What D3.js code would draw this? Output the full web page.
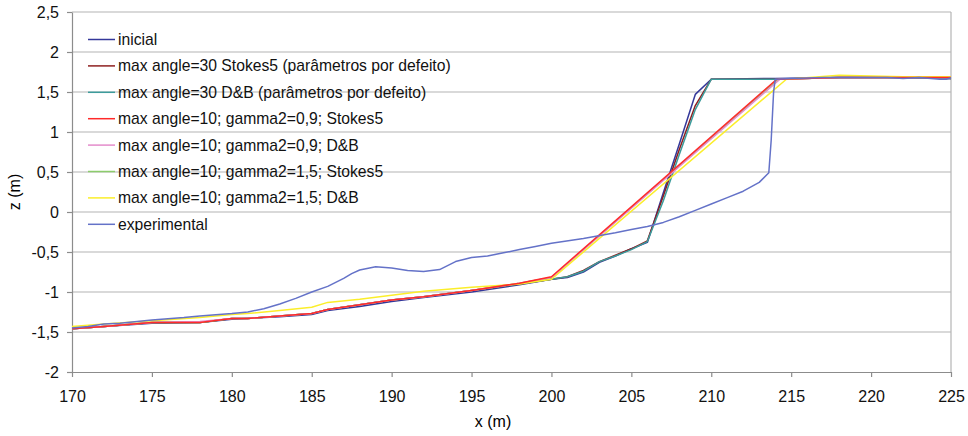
<!DOCTYPE html>
<meta charset="utf-8">
<title>Perfis de praia</title>
<style>

body {
  margin: 0px;
  background: #fff;
}

svg {
  font-family: Arial, "Liberation Sans", sans-serif;
}

.grid line {
  stroke: #b4b4b4;
  stroke-width: 1.2px;
}

.axis path, .axis line {
  stroke: #8c8c8c;
  stroke-width: 1.2px;
}

.axis text {
  font-size: 16px;
  fill: #111;
}

.serie {
  fill: none;
  stroke-width: 1.5px;
  stroke-linejoin: round;
}

.legend text {
  font-size: 15.7px;
  fill: #111;
}

</style>

<script src="https://d3js.org/d3.v7.min.js"></script>

<body>
<script>

var width = 968, height = 436;

// perfil inicial
var xInicial = [170, 172, 175, 178, 180, 183, 185, 186, 188, 190, 192, 195, 198, 200, 201, 202, 203, 204, 205, 206, 207, 208, 209, 210, 214, 218, 222, 225];
var zInicial = [-1.46, -1.43, -1.39, -1.38, -1.34, -1.31, -1.28, -1.23, -1.18, -1.12, -1.07, -1.00, -0.91, -0.84, -0.82, -0.75, -0.63, -0.55, -0.46, -0.38, 0.24, 0.85, 1.47, 1.66, 1.67, 1.68, 1.68, 1.67];

// max angle=30, parametros por defeito
var xMax30 = [170, 172, 175, 178, 180, 181, 183, 185, 186, 188, 190, 192, 195, 198, 200, 201, 202, 203, 204, 205, 206, 207, 208, 209, 210, 214, 218, 222, 225];
var zMax30Stokes = [-1.46, -1.43, -1.38, -1.38, -1.33, -1.33, -1.30, -1.27, -1.22, -1.16, -1.10, -1.06, -0.98, -0.90, -0.84, -0.81, -0.73, -0.62, -0.54, -0.46, -0.36, 0.20, 0.78, 1.33, 1.66, 1.66, 1.68, 1.68, 1.67];
var zMax30DB = [-1.46, -1.43, -1.38, -1.38, -1.33, -1.33, -1.30, -1.27, -1.22, -1.16, -1.10, -1.06, -0.98, -0.90, -0.84, -0.81, -0.74, -0.62, -0.55, -0.47, -0.37, 0.14, 0.72, 1.28, 1.66, 1.66, 1.68, 1.68, 1.67];

// max angle=10
var xMax10 = [170, 172, 175, 178, 180, 181, 183, 185, 186, 188, 190, 192, 195, 198, 200];
var zG09Stokes = [-1.46, -1.43, -1.38, -1.38, -1.33, -1.33, -1.30, -1.27, -1.22, -1.16, -1.10, -1.06, -0.98, -0.89, -0.81];
var zG09DB = [-1.46, -1.43, -1.38, -1.37, -1.33, -1.33, -1.30, -1.27, -1.22, -1.16, -1.10, -1.06, -0.98, -0.89, -0.82];
var zG15Stokes = [-1.46, -1.43, -1.38, -1.38, -1.33, -1.33, -1.30, -1.27, -1.22, -1.16, -1.10, -1.06, -0.98, -0.89, -0.82];
var zG15DB = [-1.43, -1.40, -1.36, -1.32, -1.28, -1.27, -1.23, -1.19, -1.13, -1.09, -1.04, -0.99, -0.94, -0.90, -0.84];
// topo do talude e berma
var xTopo = [214.1, 214.3, 214.2, 214.7];
var xBerma = [218, 222, 225];
var zBerma = [1.68, 1.68, 1.68];
var zBermaYellow = [1.71, 1.69, 1.69];

// experimental
var xExp = [170, 171, 172, 173, 175, 177, 178, 180, 181, 182, 183, 184, 185, 186, 187, 187.5, 188, 189, 190, 191, 192, 193, 193.5, 194, 195, 196, 197, 198, 199, 200, 202, 204, 205, 206, 207, 208, 209, 210, 211, 212, 213, 213.6, 213.75, 213.9, 214, 215, 217, 219, 221, 222, 223, 224.3, 224.7, 225];
var zExp = [-1.45, -1.43, -1.40, -1.39, -1.35, -1.32, -1.30, -1.27, -1.25, -1.21, -1.15, -1.08, -1.00, -0.93, -0.83, -0.77, -0.725, -0.685, -0.70, -0.73, -0.745, -0.72, -0.67, -0.62, -0.57, -0.55, -0.51, -0.47, -0.43, -0.39, -0.33, -0.26, -0.22, -0.18, -0.13, -0.06, 0.02, 0.10, 0.18, 0.26, 0.37, 0.49, 0.90, 1.50, 1.66, 1.67, 1.68, 1.68, 1.68, 1.67, 1.68, 1.66, 1.66, 1.68];

var names = [
  "inicial",
  "max angle=30 Stokes5 (parâmetros por defeito)",
  "max angle=30 D&B (parâmetros por defeito)",
  "max angle=10; gamma2=0,9; Stokes5",
  "max angle=10; gamma2=0,9; D&B",
  "max angle=10; gamma2=1,5; Stokes5",
  "max angle=10; gamma2=1,5; D&B",
  "experimental"
];
var colors = ["#34389a", "#8e1f1f", "#3c9c9c", "#ff2a2a", "#e48ccb", "#8ccc6c", "#fbee2a", "#6472c8"];

var xTicks = d3.range(170, 226, 5);
var zTicks = d3.range(-2, 2.51, 0.5);

function zip(xs, zs) {
  return xs.map(function(x, i) { return [x, zs[i]]; });
}

var series = [
  zip(xInicial, zInicial),
  zip(xMax30, zMax30Stokes),
  zip(xMax30, zMax30DB),
  zip(xMax10, zG09Stokes).concat([[xTopo[0], 1.66]], zip(xBerma, zBerma)),
  zip(xMax10, zG09DB).concat([[xTopo[1], 1.66]], zip(xBerma, zBerma)),
  zip(xMax10, zG15Stokes).concat([[xTopo[2], 1.66]], zip(xBerma, zBerma)),
  zip(xMax10, zG15DB).concat([[xTopo[3], 1.66]], zip(xBerma, zBermaYellow)),
  zip(xExp, zExp)
];
// order in which the lines are drawn (red above pink and green)
var drawOrder = [0, 1, 2, 5, 4, 6, 3, 7];

var margin = {top: 12, right: 17, bottom: 64, left: 72};

var x = d3.scaleLinear()
    .domain([170, 225])
    .range([margin.left, width - margin.right]);

var y = d3.scaleLinear()
    .domain([-2, 2.5])
    .range([height - margin.bottom, margin.top]);

var pt = d3.formatLocale({decimal: ",", thousands: ".", grouping: [3], currency: ["", ""], minus: "-"});
var fmt = pt.format("~f");

var svg = d3.select("body").append("svg")
    .attr("width", width)
    .attr("height", height);

// horizontal gridlines
svg.append("g")
    .attr("class", "grid")
  .selectAll("line")
    .data(zTicks.filter(function(d) { return d > -2; }))
  .enter().append("line")
    .attr("x1", x(170))
    .attr("x2", x(225))
    .attr("y1", function(d) { return y(d); })
    .attr("y2", function(d) { return y(d); });

// right border
svg.append("line")
    .attr("x1", x(225)).attr("x2", x(225))
    .attr("y1", y(2.5)).attr("y2", y(-2))
    .style("stroke", "#b4b4b4")
    .style("stroke-width", "1.2px");

svg.append("g")
    .attr("class", "axis")
    .attr("transform", "translate(0," + y(-2) + ")")
    .call(d3.axisBottom(x).tickValues(xTicks).tickSize(5).tickSizeOuter(0).tickPadding(14).tickFormat(fmt));

svg.append("g")
    .attr("class", "axis")
    .attr("transform", "translate(" + x(170) + ",0)")
    .call(d3.axisLeft(y).tickValues(zTicks).tickSize(5).tickSizeOuter(0).tickPadding(8).tickFormat(fmt));

// axis titles
svg.append("text")
    .attr("x", 493)
    .attr("y", 427)
    .style("font-size", "16px")
    .style("text-anchor", "middle")
    .text("x (m)");

svg.append("text")
    .attr("transform", "translate(20,192) rotate(-90)")
    .style("font-size", "16px")
    .style("text-anchor", "middle")
    .text("z (m)");

var line = d3.line()
    .x(function(d) { return x(d[0]); })
    .y(function(d) { return y(d[1]); });

svg.append("g").selectAll("path")
    .data(drawOrder)
  .enter().append("path")
    .attr("class", "serie")
    .attr("d", function(i) { return line(series[i]); })
    .style("stroke", function(i) { return colors[i]; });

// legend
var legend = svg.append("g")
    .attr("class", "legend")
  .selectAll("g")
    .data(names)
  .enter().append("g")
    .attr("transform", function(d, i) { return "translate(88," + (39.5 + i * 26.4) + ")"; });

legend.append("line")
    .attr("x1", 0)
    .attr("x2", 27)
    .style("stroke", function(d, i) { return colors[i]; })
    .style("stroke-width", "1.5px");

legend.append("text")
    .attr("x", 30)
    .attr("dy", "0.35em")
    .text(function(d) { return d; });

</script>
